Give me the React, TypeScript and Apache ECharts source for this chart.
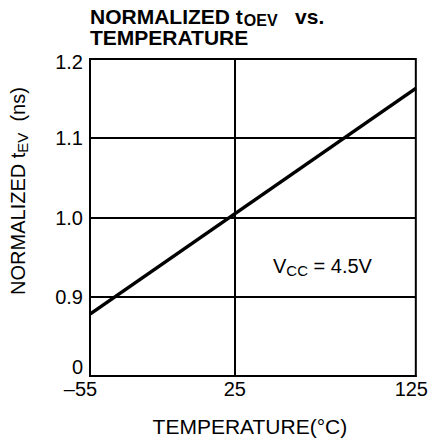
import React, { useEffect, useRef } from "react";
import * as echarts from "echarts";

const temps = [-55, 125];
const tOev = [0.878, 1.163];
const xTicks = [-55, 25, 125];
const yTickLabels: Record<string, string> = { "0.8": "0", "0.9": "0.9", "1.0": "1.0", "1.1": "1.1", "1.2": "1.2" };
const vccNote = "4.5V";

const FONT = "'Liberation Sans', Arial, Helvetica, sans-serif";

export default function App() {
  const ref = useRef<HTMLDivElement>(null);
  useEffect(() => {
    if (!ref.current) return;
    const chart = echarts.init(ref.current, undefined, { renderer: "svg" });
    const option: any = {
      animation: false,
      backgroundColor: "#fff",
      textStyle: { fontFamily: FONT, color: "#000" },
      grid: {
        left: 90,
        right: 13,
        top: 59,
        bottom: 65,
        show: true,
        borderColor: "#000",
        borderWidth: 2,
        backgroundColor: "transparent",
      },
      graphic: [
        {
          type: "text",
          left: 90,
          top: 5,
          style: {
            text: "{b|NORMALIZED t}{s|OEV}{b|   vs.}\n{b|TEMPERATURE}",
            rich: {
              b: { fontSize: 21, fontWeight: "bold", fontFamily: FONT, fill: "#000", lineHeight: 21 },
              s: { fontSize: 16, fontWeight: "bold", fontFamily: FONT, fill: "#000", lineHeight: 21, padding: [7, 0, 0, 1] },
            },
          },
        },
        {
          type: "text",
          x: 18,
          y: 191,
          rotation: Math.PI / 2,
          style: {
            text: "{m|NORMALIZED t}{s|EV}{m|  (ns)}",
            align: "center",
            verticalAlign: "middle",
            rich: {
              m: { fontSize: 20, fontFamily: FONT, fill: "#000", lineHeight: 24 },
              s: { fontSize: 15, fontFamily: FONT, fill: "#000", lineHeight: 24, padding: [8, 0, 0, 0] },
            },
          },
        },
        {
          type: "text",
          x: 273,
          y: 266,
          style: {
            text: "{m|V}{s|CC}{m| = " + vccNote + "}",
            verticalAlign: "middle",
            rich: {
              m: { fontSize: 20, fontFamily: FONT, fill: "#000", lineHeight: 24 },
              s: { fontSize: 15, fontFamily: FONT, fill: "#000", lineHeight: 24, padding: [8, 0, 0, 0] },
            },
          },
        },
      ],
      xAxis: {
        type: "value",
        min: xTicks[0],
        max: xTicks[xTicks.length - 1],
        interval: xTicks[1] - xTicks[0],
        name: "TEMPERATURE(°C)",
        nameLocation: "middle",
        nameGap: 40,
        nameTextStyle: { fontSize: 21, fontFamily: FONT, color: "#000", padding: [0, 6, 0, 0] },
        axisLine: { show: true, onZero: false, lineStyle: { color: "#000", width: 2 } },
        axisTick: { show: false },
        splitLine: { show: false },
        axisLabel: {
          margin: 3,
          fontSize: 20,
          fontFamily: FONT,
          color: "#000",
          formatter: (v: number) => {
            if (!xTicks.includes(v)) return "";
            if (v === xTicks[0]) return "{l|–" + Math.abs(v) + "}";
            if (v === xTicks[xTicks.length - 1]) return "{r|" + v + "}";
            return String(v);
          },
          rich: {
            l: { fontSize: 20, fontFamily: FONT, color: "#000", padding: [0, 19, 0, 0] },
            r: { fontSize: 20, fontFamily: FONT, color: "#000", padding: [0, 9, 0, 0] },
          },
        },
      },
      yAxis: {
        type: "value",
        min: 0.8,
        max: 1.2,
        interval: 0.1,
        axisLine: { show: true, onZero: false, lineStyle: { color: "#000", width: 2 } },
        axisTick: { show: false },
        splitLine: { show: true, lineStyle: { color: "#000", width: 2 } },
        axisLabel: {
          margin: 7,
          fontSize: 20,
          fontFamily: FONT,
          color: "#000",
          formatter: (v: number) => {
            const key = v.toFixed(1);
            const t = yTickLabels[key] ?? key;
            if (key === "0.8") return "{z|" + t + "}";
            if (key === "1.2") return "{t|" + t + "}";
            return t;
          },
          rich: {
            z: { fontSize: 20, fontFamily: FONT, color: "#000", padding: [0, 0, 18, 0] },
            t: { fontSize: 20, fontFamily: FONT, color: "#000", padding: [6, 0, 0, 0] },
          },
        },
      },
      series: [
        {
          type: "line",
          data: temps.map((t, i) => [t, tOev[i]]),
          symbol: "none",
          lineStyle: { color: "#000", width: 3.5 },
          markLine: {
            silent: true,
            symbol: "none",
            label: { show: false },
            lineStyle: { color: "#000", width: 2, type: "solid" },
            data: [{ xAxis: xTicks[1] }],
          },
          z: 5,
        },
      ],
    };
    chart.setOption(option);
    return () => chart.dispose();
  }, []);
  return <div ref={ref} style={{ position: "fixed", left: 0, top: 0, width: 431, height: 442 }} />;
}
